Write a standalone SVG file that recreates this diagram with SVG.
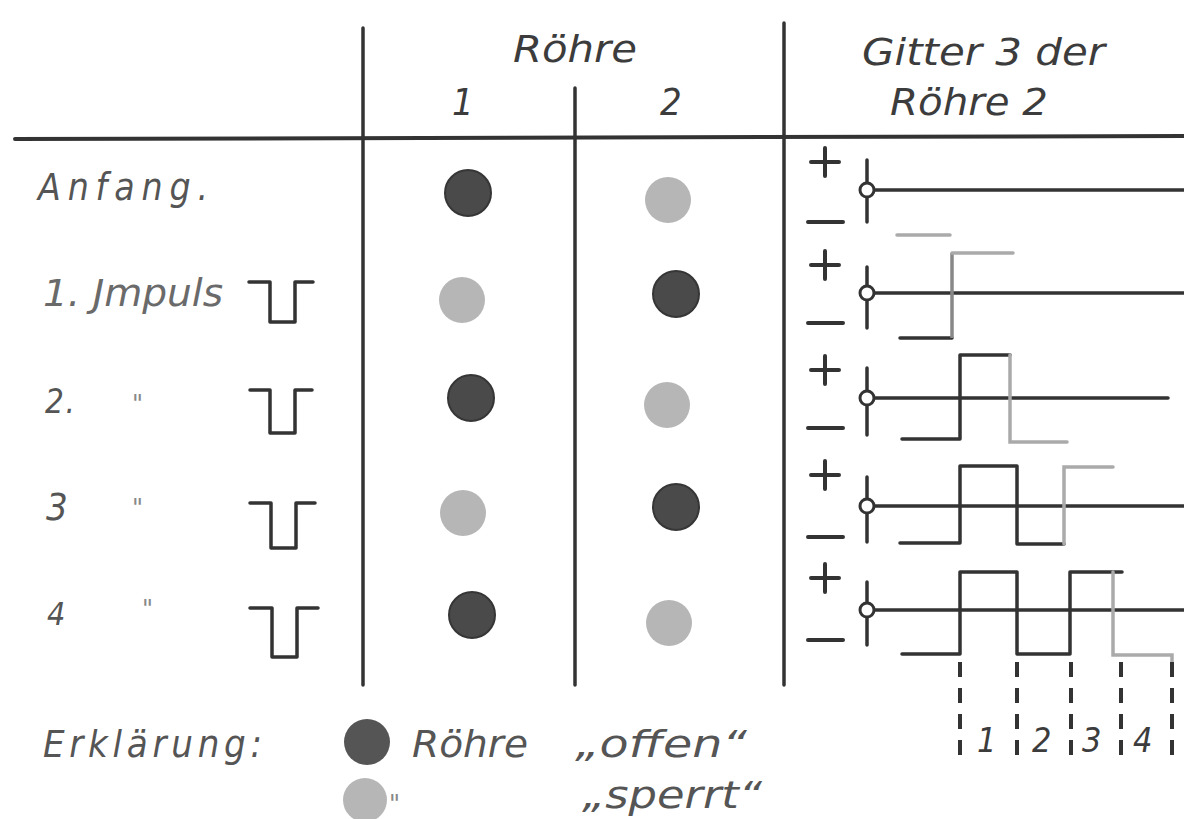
<svg xmlns="http://www.w3.org/2000/svg" width="1184" height="819" viewBox="0 0 1184 819">
<style>
.t{font-family:"DejaVu Sans Condensed","DejaVu Sans","Liberation Sans",sans-serif;font-style:oblique;fill:#3c3c3c}
.lt{fill:#555}
.ln{stroke:#333;stroke-width:3.5;fill:none;stroke-linecap:round;stroke-linejoin:round}
.gl{stroke:#aaa;stroke-width:3.5;fill:none;stroke-linecap:round}
.gm{stroke:#888;stroke-width:3.5;fill:none}
.dk{fill:#4a4a4a;stroke:#363636;stroke-width:2}
.li{fill:#b6b6b6}
.ds{stroke:#333;stroke-width:4;stroke-dasharray:15 11;fill:none}
.dt{font-family:"DejaVu Sans",sans-serif;font-size:24px;fill:#888}
</style>
<rect width="1184" height="819" fill="#fff"/>
<g id="grid">
<line class="ln" x1="15" y1="139" x2="1184" y2="136" style="stroke-width:4"/>
<line class="ln" x1="363" y1="28" x2="363" y2="685"/>
<line class="ln" x1="575" y1="88" x2="575" y2="685"/>
<line class="ln" x1="784" y1="23" x2="784" y2="685"/>
</g>
<g id="header">
<text class="t" x="513" y="62" font-size="38" textLength="124" lengthAdjust="spacingAndGlyphs">Röhre</text>
<text class="t" x="452" y="115" font-size="38">1</text>
<text class="t" x="660" y="115" font-size="38">2</text>
<text class="t" x="862" y="65" font-size="38" textLength="243" lengthAdjust="spacingAndGlyphs">Gitter 3 der</text>
<text class="t" x="890" y="115" font-size="38" textLength="158" lengthAdjust="spacingAndGlyphs">Röhre 2</text>
</g>
<g id="row-anfang">
<text class="t lt" x="38" y="200" font-size="37" textLength="170" lengthAdjust="spacing">Anfang.</text>
<circle class="dk" cx="468" cy="193" r="23"/>
<circle class="li" cx="668" cy="200" r="23"/>
</g>
<g id="row-1">
<text class="t" x="43" y="306" font-size="37" textLength="180" lengthAdjust="spacingAndGlyphs" style="fill:#6a6a6a">1. Jmpuls</text>
<polyline class="ln" points="249,282 270,282 270,322 295,322 295,282 313,282"/>
<circle class="li" cx="462" cy="300" r="23"/>
<circle class="dk" cx="676" cy="294" r="23"/>
</g>
<g id="row-2">
<text class="t lt" x="45" y="413" font-size="33" textLength="30" lengthAdjust="spacing">2.</text>
<text class="dt" x="132" y="412">"</text>
<polyline class="ln" points="250,390 270,390 270,433 295,433 295,390 312,390"/>
<circle class="dk" cx="471" cy="398" r="23"/>
<circle class="li" cx="667" cy="405" r="23"/>
</g>
<g id="row-3">
<text class="t lt" x="46" y="520" font-size="38">3</text>
<text class="dt" x="132" y="516">"</text>
<polyline class="ln" points="250,503 271,503 271,548 296,548 296,503 315,503"/>
<circle class="li" cx="463" cy="513" r="23"/>
<circle class="dk" cx="676" cy="507" r="23"/>
</g>
<g id="row-4">
<text class="t lt" x="47" y="625" font-size="32">4</text>
<text class="dt" x="142" y="617">"</text>
<polyline class="ln" points="250,608 272,608 272,657 297,657 297,608 318,608"/>
<circle class="dk" cx="472" cy="615" r="23"/>
<circle class="li" cx="669" cy="623" r="23"/>
</g>
<g id="wave-axes">
<g class="ln" style="stroke-width:4">
<path d="M811 162h28M825 148v28M808 222h35"/>
<path d="M811 265h28M825 251v28M808 323h35"/>
<path d="M811 370h28M825 356v28M808 428h35"/>
<path d="M811 475h28M825 461v28M808 537h35"/>
<path d="M811 578h28M825 564v28M808 640h35"/>
</g>
<g class="ln">
<path d="M867 160v22M867 198v24M875 190H1184"/>
<path d="M867 267v18M867 301v27M875 293H1184"/>
<path d="M867 368v22M867 406v29M875 398H1168"/>
<path d="M867 477v21M867 514v28M875 506H1184"/>
<path d="M867 582v20M867 618v27M875 610H1184"/>
</g>
<g fill="#fff" stroke="#333" stroke-width="3">
<circle cx="867" cy="190" r="7"/>
<circle cx="867" cy="293" r="7"/>
<circle cx="867" cy="398" r="7"/>
<circle cx="867" cy="506" r="7"/>
<circle cx="867" cy="610" r="7"/>
</g>
</g>
<g id="connectors">
<line class="gl" x1="897" y1="235" x2="950" y2="235"/>
<polyline class="ln" points="900,338 952,338"/>
<polyline class="gm" points="952,338 952,253"/>
<polyline class="gl" points="952,253 1013,253"/>
<polyline class="ln" points="902,439 960,439 960,355 1010,355"/>
<polyline class="gl" points="1010,355 1010,442 1067,442"/>
<polyline class="ln" points="900,543 960,543 960,466 1017,466 1017,544 1064,544"/>
<polyline class="gl" points="1064,544 1064,467 1113,467"/>
<polyline class="ln" points="902,654 960,654 960,572 1017,572 1017,654 1070,654 1070,572 1122,572"/>
<polyline class="gl" points="1113,572 1113,655 1172,655 1172,662"/>
<g class="ds">
<line x1="960" y1="662" x2="960" y2="756"/>
<line x1="1017" y1="662" x2="1017" y2="756"/>
<line x1="1071" y1="662" x2="1071" y2="756"/>
<line x1="1121" y1="662" x2="1121" y2="756"/>
<line x1="1172" y1="662" x2="1172" y2="756"/>
</g>
<text class="t" x="977" y="752" font-size="34">1</text>
<text class="t" x="1032" y="752" font-size="34">2</text>
<text class="t" x="1082" y="752" font-size="34">3</text>
<text class="t" x="1133" y="752" font-size="34">4</text>
</g>
<g id="legend">
<text class="t lt" x="43" y="757" font-size="38" textLength="219" lengthAdjust="spacing">Erklärung:</text>
<circle cx="367" cy="742" r="23" fill="#555"/>
<circle class="li" cx="365" cy="800" r="22"/>
<text class="t lt" x="412" y="757" font-size="38" textLength="116" lengthAdjust="spacingAndGlyphs">Röhre</text>
<text class="t lt" x="575" y="757" font-size="38" textLength="172" lengthAdjust="spacingAndGlyphs">„offen“</text>
<text class="dt" x="389" y="812">"</text>
<text class="t lt" x="582" y="808" font-size="38" textLength="180" lengthAdjust="spacingAndGlyphs">„sperrt“</text>
</g>
</svg>
